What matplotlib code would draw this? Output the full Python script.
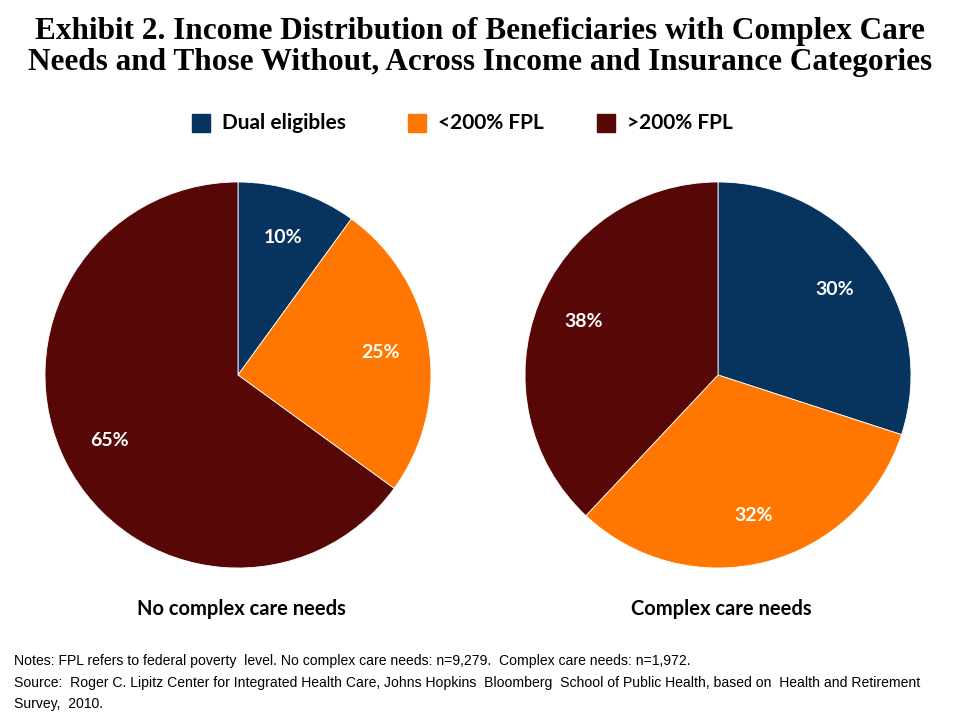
import matplotlib
matplotlib.use("Agg")
import matplotlib.pyplot as plt

categories = ["Dual eligibles", "<200% FPL", ">200% FPL"]
no_complex = [10, 25, 65]
complex_needs = [30, 32, 38]
panel_titles = ["No complex care needs", "Complex care needs"]
colors = ["#07345F", "#FF7700", "#580707"]

title = ("Exhibit 2. Income Distribution of Beneficiaries with Complex Care\n"
         "Needs and Those Without, Across Income and Insurance Categories")
notes = ("Notes: FPL refers to federal poverty  level. No complex care needs: n=9,279.  Complex care needs: n=1,972.\n"
         "Source:  Roger C. Lipitz Center for Integrated Health Care, Johns Hopkins  Bloomberg  School of Public Health, based on  Health and Retirement\n"
         "Survey,  2010.")

W, H = 960, 720
fig = plt.figure(figsize=(9.6, 7.2), dpi=100)
fig.patch.set_facecolor("white")

fig.text(0.5, 1 - 47 / H, title, ha="center", va="center", fontsize=22.5,
         fontweight="bold", family=["Liberation Serif", "DejaVu Serif"],
         linespacing=1.1, color="black")

# legend
leg_x = [192, 408, 597]
for x, c, lab in zip(leg_x, colors, categories):
    fig.patches.append(plt.Rectangle((x / W, 1 - 132 / H), 18 / W, 18 / H,
                                     transform=fig.transFigure, color=c))
    fig.text((x + 30) / W, 1 - 123 / H, lab, ha="left", va="center",
             fontsize=15, fontweight="bold", family=["Lato", "DejaVu Sans"], color="black")

centers = [238, 718]
R = 193
cy = 375
for cx, vals, ttl in zip(centers, [no_complex, complex_needs], panel_titles):
    ax = fig.add_axes([(cx - R) / W, 1 - (cy + R) / H, 2 * R / W, 2 * R / H])
    wedges, texts, autotexts = ax.pie(
        vals, colors=colors, startangle=90, counterclock=False,
        autopct=lambda p: f"{p:.0f}%", pctdistance=0.75, radius=1,
        wedgeprops=dict(edgecolor="white", linewidth=0.6),
        textprops=dict(color="white", fontsize=14, fontweight="bold",
                       family=["Lato", "DejaVu Sans"]))
    ax.set_xlim(-1.0, 1.0)
    ax.set_ylim(-1.0, 1.0)
    ax.set_aspect("equal")
    fig.text((cx + 3) / W, 1 - 609 / H, ttl, ha="center", va="center",
             fontsize=14.5, fontweight="bold", family=["Lato", "DejaVu Sans"], color="black")

fig.text(14 / W, 1 - 654 / H, notes, ha="left", va="top", fontsize=10.1,
         family=["Liberation Sans", "DejaVu Sans"], linespacing=1.7, color="black")

fig.savefig("out.png", dpi=100, facecolor="white")
